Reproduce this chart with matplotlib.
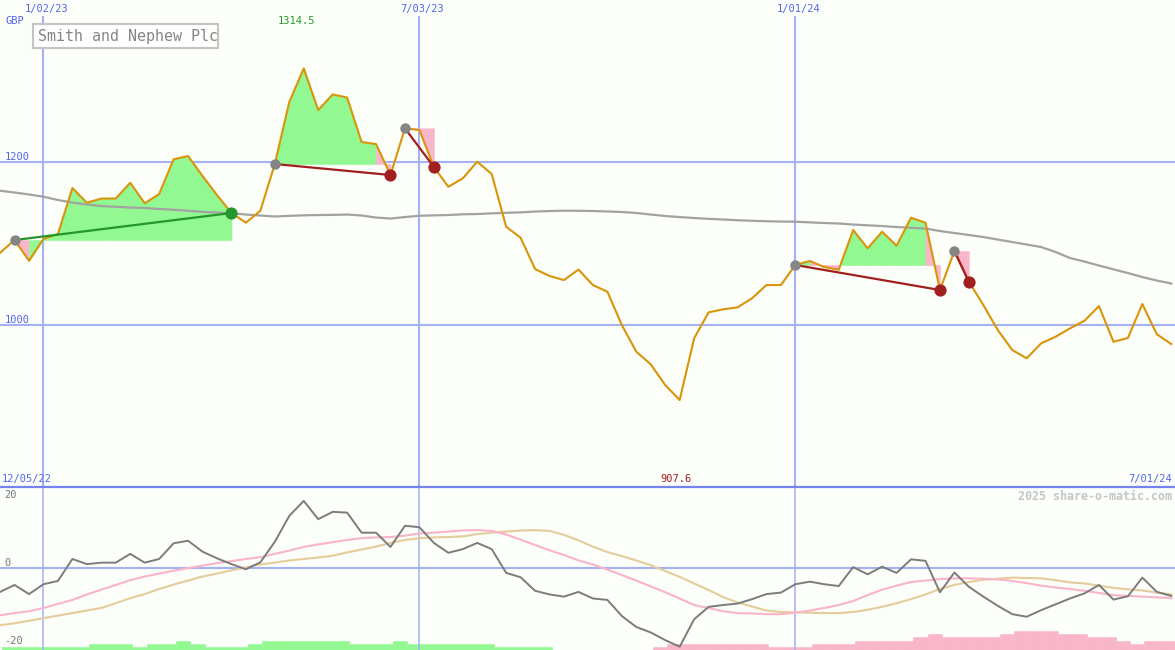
import pandas as pd
import matplotlib
matplotlib.use('Agg')
import matplotlib.pyplot as plt
import matplotlib.dates as mdates
from matplotlib.patches import Rectangle
from matplotlib.lines import Line2D

# weekly data, 12 Dec 2022 .. 1 Jul 2024
weeks = pd.date_range('2022-12-12', '2024-07-01', freq='7D')

price = [1088.3, 1103.9, 1078.5, 1105.2, 1111.3, 1167.7, 1149.7, 1154.8, 1154.8, 1174.2,
         1149.0, 1160.4, 1202.9, 1207.0, 1182.5, 1159.1, 1137.1, 1125.2, 1139.9, 1197.2,
         1273.3, 1314.5, 1263.4, 1282.5, 1278.8, 1224.2, 1221.7, 1183.7, 1241.0, 1238.9,
         1193.5, 1169.3, 1179.6, 1200.0, 1184.9, 1120.2, 1106.7, 1068.3, 1059.8, 1054.8,
         1067.7, 1048.7, 1040.5, 999.6, 966.9, 951.4, 926.0, 907.6, 983.3, 1015.2,
         1018.9, 1021.3, 1032.4, 1048.7, 1048.7, 1073.3, 1078.2, 1070.8, 1067.5, 1116.2,
         1093.7, 1114.1, 1096.9, 1131.3, 1125.2, 1042.6, 1090.4, 1052.8, 1024.2, 993.5,
         969.0, 958.8, 977.2, 985.3, 995.6, 1004.9, 1022.9, 979.1, 983.7, 1025.4,
         988.3, 976.3]

# long moving average (grey)
ma_long = [1164.4, 1162.2, 1159.8, 1157.1, 1153.0, 1149.9, 1147.5, 1145.6, 1144.7, 1143.8,
           1143.2, 1142.0, 1141.1, 1139.8, 1138.5, 1137.7, 1136.7, 1135.2, 1134.0, 1132.8,
           1133.6, 1134.2, 1134.6, 1134.8, 1135.2, 1134.0, 1131.5, 1130.3, 1132.1, 1133.7,
           1134.2, 1134.6, 1135.5, 1135.8, 1136.7, 1137.3, 1137.9, 1138.9, 1139.5, 1139.9,
           1139.8, 1139.5, 1139.0, 1138.3, 1137.1, 1135.2, 1133.4, 1132.1, 1130.9, 1129.9,
           1129.1, 1128.2, 1127.5, 1127.0, 1126.6, 1126.4, 1125.6, 1124.8, 1124.2, 1122.9,
           1122.0, 1121.1, 1119.9, 1118.9, 1118.0, 1115.0, 1112.5, 1110.1, 1107.6, 1104.5,
           1101.5, 1098.4, 1095.3, 1089.2, 1081.8, 1077.5, 1072.6, 1068.0, 1063.4, 1058.5,
           1054.2, 1050.6]

# lower panel: momentum (grey) and two smoothed lines
momentum = [-6.6, -4.7, -7.2, -4.5, -3.6, 2.4, 1.0, 1.4, 1.4, 3.8,
            1.4, 2.4, 6.7, 7.4, 4.4, 2.6, 1.0, -0.4, 1.5, 7.1,
            14.2, 18.3, 13.3, 15.3, 15.1, 9.6, 9.6, 5.7, 11.5, 11.1,
            6.8, 4.1, 5.1, 6.8, 5.1, -1.4, -2.6, -6.3, -7.3, -7.9,
            -6.6, -8.4, -8.8, -13.2, -16.2, -17.7, -19.8, -21.6, -14.1, -10.7,
            -10.2, -9.8, -8.6, -7.2, -6.8, -4.5, -3.8, -4.5, -5.0, 0.2,
            -1.8, 0.3, -1.4, 2.3, 1.9, -6.7, -1.3, -5.2, -7.9, -10.4,
            -12.7, -13.4, -11.6, -10.0, -8.4, -7.0, -4.7, -8.7, -7.8, -2.7,
            -6.6, -7.7]

signal_fast = [-13.0, -12.4, -11.9, -11.0, -9.9, -8.8, -7.3, -6.0, -4.7, -3.4,
               -2.4, -1.6, -0.8, -0.1, 0.6, 1.3, 1.8, 2.4, 2.9, 3.8,
               4.7, 5.7, 6.4, 7.0, 7.6, 8.1, 8.3, 8.4, 8.8, 9.4,
               9.6, 9.9, 10.2, 10.3, 10.1, 9.1, 7.7, 6.2, 4.8, 3.5,
               2.0, 0.9, -0.5, -2.0, -3.5, -5.1, -6.7, -8.4, -10.2, -11.0,
               -11.9, -12.4, -12.5, -12.7, -12.7, -12.3, -11.7, -11.0, -10.2, -9.1,
               -7.5, -6.0, -4.9, -3.9, -3.5, -3.1, -2.9, -2.9, -3.0, -3.2,
               -3.6, -4.2, -4.9, -5.4, -5.8, -6.3, -6.9, -7.5, -7.7, -7.9,
               -8.1, -8.3]

signal_slow = [-15.7, -15.2, -14.5, -13.8, -13.1, -12.4, -11.7, -11.0, -9.7, -8.3,
               -7.2, -5.8, -4.6, -3.5, -2.4, -1.6, -0.7, 0.1, 0.9, 1.4,
               2.0, 2.4, 2.8, 3.3, 4.2, 5.0, 5.8, 6.8, 7.6, 8.1,
               8.3, 8.4, 8.6, 9.2, 9.6, 9.9, 10.2, 10.3, 10.1, 9.0,
               7.5, 5.8, 4.3, 3.2, 2.0, 0.7, -0.9, -2.5, -4.3, -6.1,
               -8.0, -9.5, -10.6, -11.7, -12.1, -12.2, -12.3, -12.4, -12.4, -12.1,
               -11.5, -10.7, -9.7, -8.6, -7.3, -5.8, -4.7, -3.9, -3.3, -3.0,
               -2.7, -2.8, -2.9, -3.4, -4.0, -4.3, -4.9, -5.5, -5.9, -6.2,
               -6.8, -7.3]

# trend strength bars: + green, - pink
trend = [1, 1, 1, 1, 1, 1, 2, 2, 2, 1,
         2, 2, 3, 2, 1, 1, 1, 2, 3, 3,
         3, 3, 3, 3, 2, 2, 2, 3, 2, 2,
         2, 2, 2, 2, 1, 1, 1, 1, 0, 0,
         0, 0, 0, 0, 0, -1, -2, -2, -2, -2,
         -2, -2, -2, -1, -1, -1, -2, -2, -2, -3,
         -3, -3, -3, -4, -5, -4, -4, -4, -4, -5,
         -6, -6, -6, -5, -5, -4, -4, -3, -2, -3,
         -3, -3]

# trades as (entry week index, exit week index)
trade_entry = [1, 19, 28, 55, 66]
trade_exit = [16, 27, 30, 65, 67]

grid_dates = ['2023-01-02', '2023-07-03', '2024-01-01']
grid_labels = ['1/02/23', '7/03/23', '1/01/24']

BG = '#fbfef9'
GRID = '#a4b2f4'
BLUE_TXT = '#5566ee'
ORANGE = '#d9940a'
GREEN_FILL = '#92f892'
PINK_FILL = '#f9b6cb'
MONO = 'DejaVu Sans Mono'

W, H = 1175, 650
fig = plt.figure(figsize=(W / 100, H / 100), dpi=100, facecolor=BG)
ax = fig.add_axes([0, 163 / H, 1, 471 / H])
axh = fig.add_axes([0, 0, 1, 163 / H])
axo = fig.add_axes([0, 0, 1, 163 / H])

xs = mdates.date2num(weeks)
x0 = xs[0] - 0.05
x1 = xs[0] + 568.8
for a in (ax, axh, axo):
    a.set_xlim(x0, x1)
    a.set_axis_off()

# ---- main panel ----
ax.set_ylim(800.9, 1378.8)
for g in grid_dates:
    ax.axvline(mdates.datestr2num(g), color=GRID, lw=1.5, zorder=1)
for lvl in (1200, 1000):
    ax.axhline(lvl, color=GRID, lw=1.5, zorder=1)
    ax.text(x0 + 2.2, lvl, str(lvl), color=BLUE_TXT, fontsize=7.5, family=MONO,
            va='bottom', ha='left')

# trade fills, one segment at a time (colour by where the segment ends)
for e, x in zip(trade_entry, trade_exit):
    lvl = price[e]
    for i in range(e, x):
        col = GREEN_FILL if price[i + 1] >= lvl else PINK_FILL
        ax.fill_between(xs[i:i + 2], lvl, price[i:i + 2], facecolor=col,
                        edgecolor=col, lw=0.4, zorder=2)

ax.plot(xs, ma_long, color='#a2a2a2', lw=1.6, zorder=3)
ax.plot(xs, price, color=ORANGE, lw=1.5, zorder=4)

for e, x in zip(trade_entry, trade_exit):
    won = price[x] > price[e]
    lc = '#24962a' if won else '#a21f1f'
    ax.plot([xs[e], xs[x]], [price[e], price[x]], color=lc, lw=1.6, zorder=5)
    ax.plot(xs[e], price[e], 'o', ms=7.5, color='#858585', mec='none', zorder=6)
    ax.plot(xs[x], price[x], 'o', ms=8.8, color=lc, mec='none', zorder=6)

# high / low labels
imax = price.index(max(price))
imin = price.index(min(price))
ax.annotate(f'{max(price):.1f}', xy=(xs[imax], 1.0), xycoords=('data', 'axes fraction'),
            xytext=(-7, -5), textcoords='offset pixels', ha='center', va='center',
            color='#22a022', fontsize=7.5, family=MONO)
ax.annotate(f'{min(price):.1f}', xy=(xs[imin], 0.0), xycoords=('data', 'axes fraction'),
            xytext=(-4, 8), textcoords='offset pixels', ha='center', va='center',
            color='#a21f1f', fontsize=7.5, family=MONO)

# date labels above the chart and on the separator
for g, lab in zip(grid_dates, grid_labels):
    ax.annotate(lab, xy=(mdates.datestr2num(g), 1.0), xycoords=('data', 'axes fraction'),
                xytext=(3, 7), textcoords='offset pixels', ha='center', va='center',
                color=BLUE_TXT, fontsize=7.5, family=MONO, annotation_clip=False)
fig.text(2 / W, 1 - 479 / H, '12/05/22', color=BLUE_TXT, fontsize=7.5, family=MONO,
         ha='left', va='center')
fig.text(1172 / W, 1 - 479 / H, '7/01/24', color=BLUE_TXT, fontsize=7.5, family=MONO,
         ha='right', va='center')
fig.text(5 / W, 1 - 21 / H, 'GBP', color=BLUE_TXT, fontsize=7.5, family=MONO,
         ha='left', va='center')

# title box
fig.patches.append(Rectangle((33 / W, 1 - 48 / H), 185 / W, 24 / H, transform=fig.transFigure,
                             facecolor='#fdfffd', edgecolor='#c4c4c4', lw=1.5, zorder=10))
fig.text(37.5 / W, 1 - 36.5 / H, 'Smith and Nephew Plc', color='#858585', fontsize=10.8,
         family=MONO, ha='left', va='center', zorder=11)

# ---- lower panel ----
axh.set_ylim(0, 163 / 3.15)
bar_left = xs + 1
bar_h = [abs(t) for t in trend]
bar_c = [GREEN_FILL if t > 0 else PINK_FILL for t in trend]
axh.bar(bar_left, bar_h, width=7, align='edge', color=bar_c, edgecolor=bar_c, lw=0.4)

axo.set_ylim(-22.5, 22.1)
for g in grid_dates:
    axo.axvline(mdates.datestr2num(g), color=GRID, lw=1.1, zorder=1)
axo.axhline(0, color=GRID, lw=1.5, zorder=1)
axo.plot(xs, signal_slow, color='#e4cc9c', lw=1.5, zorder=2)
axo.plot(xs, signal_fast, color='#f9b4c8', lw=1.5, zorder=3)
axo.plot(xs, momentum, color='#7c7c7c', lw=1.4, zorder=4)

axo.text(x0 + 2.2, 20, '20', color='#777777', fontsize=7.5, family=MONO, va='center')
axo.text(x0 + 2.2, 0, '0', color='#777777', fontsize=7.5, family=MONO, va='bottom')
axo.text(x0 + 2.2, -20, '-20', color='#777777', fontsize=7.5, family=MONO, va='center')

fig.text(1172 / W, 1 - 496 / H, '2025 share-o-matic.com', color='#c6c6c6', fontsize=8.4,
         family=MONO, weight='bold', ha='right', va='center')

# separator between the panels
fig.add_artist(Line2D([0, 1], [163 / H, 163 / H], transform=fig.transFigure,
                      color='#7483ee', lw=1.6))

plt.savefig('out.png', dpi=100, facecolor=BG)
